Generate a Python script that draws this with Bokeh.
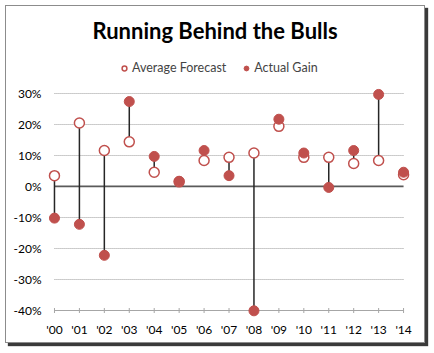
from bokeh.plotting import figure
from bokeh.models import FixedTicker, Legend, LegendItem, Label, Range1d
from bokeh.embed import file_html
from bokeh.resources import INLINE
import math

# ---- data ----
years = ["'00", "'01", "'02", "'03", "'04", "'05", "'06", "'07", "'08", "'09",
         "'10", "'11", "'12", "'13", "'14"]
forecast = [3.5, 20.5, 11.6, 14.4, 4.6, 1.5, 8.4, 9.4, 10.8, 19.4, 9.4, 9.4, 7.4, 8.4, 3.8]
actual = [-10.2, -12.2, -22.2, 27.4, 9.7, 1.7, 11.6, 3.5, -40.1, 21.7, 10.8, -0.3, 11.6, 29.7, 4.6]
y_ticks = [-40, -30, -20, -10, 0, 10, 20, 30]
y_tick_labels = ["-40%", "-30%", "-20%", "-10%", "0%", "10%", "20%", "30%"]

RED = "#c0504d"
FONT = "Lato"

xs = list(range(len(years)))

p = figure(width=420, height=338, output_backend="svg", toolbar_location=None,
           x_range=Range1d(-0.4, 14.92), y_range=Range1d(-42.9, 58.06),
           min_border_left=38, min_border_right=0, min_border_top=0, min_border_bottom=25,
           background_fill_color="white", border_fill_color="white", outline_line_color=None,
           margin=(5, 5, 5, 5),
           styles={"border": "1px solid #8c8c8c", "box-shadow": "3px 3px 1px #3a3a3a"})
p.xgrid.visible = False
p.ygrid.visible = False

# dotted gridlines spanning the categories
grid_vals = [t for t in y_ticks if t not in (0, y_ticks[0])]
p.segment(x0=[xs[0]] * len(grid_vals), x1=[xs[-1]] * len(grid_vals), y0=grid_vals, y1=grid_vals,
          line_color="#9a9a9a", line_width=1, line_dash="1 1")
# bottom axis line with small ticks
p.segment(x0=[xs[0]], x1=[xs[-1]], y0=[y_ticks[0]], y1=[y_ticks[0]], line_color="#a6a6a6", line_width=1)
p.scatter(x=xs, y=[y_ticks[0]] * len(xs), marker="dash", angle=math.pi / 2, size=5,
          line_color="#a6a6a6", line_width=1)
# zero line
p.segment(x0=[xs[0]], x1=[xs[-1]], y0=[0], y1=[0], line_color="#5a5a5a", line_width=1.75)

# connectors
p.segment(x0=xs, x1=xs, y0=forecast, y1=actual, line_color="#262626", line_width=1.5)

rf = p.scatter(x=xs, y=forecast, size=10, fill_color="white", line_color=RED, line_width=1.5)
ra = p.scatter(x=xs, y=actual, size=10, fill_color=RED, line_color=RED, line_width=1)

# axes
p.xaxis.ticker = FixedTicker(ticks=xs)
p.xaxis.major_label_overrides = {i: y for i, y in enumerate(years)}
p.xaxis.axis_line_color = None
p.xaxis.major_tick_in = 0
p.xaxis.major_tick_out = 0
p.xaxis.minor_tick_line_color = None
p.xaxis.major_label_standoff = 2
p.xaxis.major_label_text_font = FONT
p.xaxis.major_label_text_font_size = "12px"
p.xaxis.major_label_text_color = "black"

p.yaxis.ticker = FixedTicker(ticks=y_ticks)
p.yaxis.major_label_overrides = {t: l for t, l in zip(y_ticks, y_tick_labels)}
p.yaxis.axis_line_color = None
p.yaxis.major_tick_in = 0
p.yaxis.major_tick_out = 0
p.yaxis.minor_tick_line_color = None
p.yaxis.major_label_standoff = 3
p.yaxis.major_label_text_font = FONT
p.yaxis.major_label_text_font_size = "12px"
p.yaxis.major_label_text_color = "black"

# title
title = Label(x=6.44, y=50.4, text="Running Behind the Bulls", text_align="center",
              text_baseline="alphabetic", text_font=FONT, text_font_style="bold",
              text_font_size="22px", text_color="black")
p.add_layout(title)

legend = Legend(items=[LegendItem(label="Average Forecast", renderers=[rf]),
                       LegendItem(label="Actual Gain", renderers=[ra])],
                orientation="horizontal", location=(74, 244), border_line_color=None,
                background_fill_alpha=0, label_text_font=FONT, label_text_font_size="12.5px",
                glyph_width=12, glyph_height=14, label_standoff=2, spacing=14,
                padding=0, margin=0)
p.add_layout(legend, "center")

open("out.html", "w").write(file_html(p, INLINE))
